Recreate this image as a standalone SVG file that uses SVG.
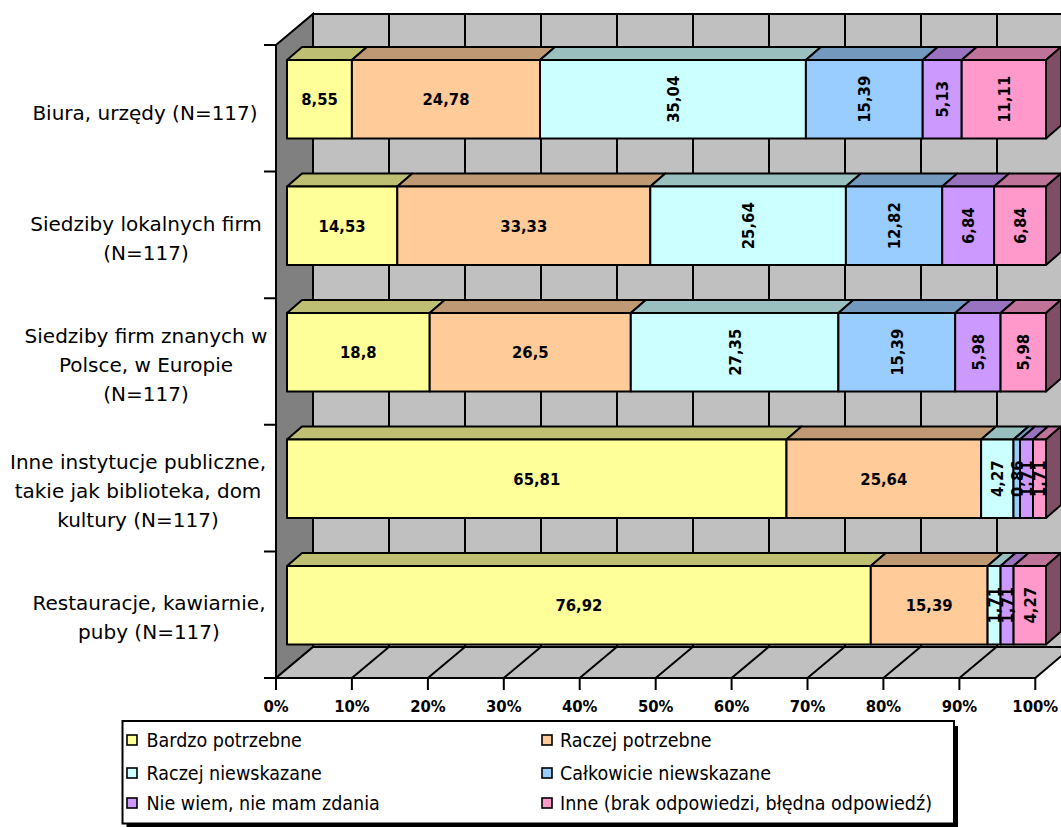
<svg xmlns="http://www.w3.org/2000/svg" width="1061" height="827" viewBox="0 0 1061 827">
  <style>
    .wall{fill:#C0C0C0;stroke:#000;stroke-width:2}
    .side{fill:#808080;stroke:#000;stroke-width:2}
    .grid{stroke:#000;stroke-width:2;fill:none}
    .bar polygon,.bar rect{stroke:#000;stroke-width:2;stroke-linejoin:round}
    .f1{fill:#FFFF99}.t1{fill:#BFBF73}
    .f2{fill:#FFCC99}.t2{fill:#BF9973}
    .f3{fill:#CCFFFF}.t3{fill:#99BFBF}
    .f4{fill:#99CCFF}.t4{fill:#7399BF}
    .f5{fill:#CC99FF}.t5{fill:#9973BF}
    .f6{fill:#FF99CC}.t6{fill:#BF7399}.r6{fill:#804D66}
    .val{font-family:"DejaVu Sans Condensed","DejaVu Sans",sans-serif;font-stretch:condensed;font-weight:bold;font-size:16.5px;text-anchor:middle;fill:#000}
    .ax{font-family:"DejaVu Sans Condensed","DejaVu Sans",sans-serif;font-stretch:condensed;font-weight:bold;font-size:16.5px;text-anchor:middle;fill:#000}
    .cat{font-family:"DejaVu Sans",Verdana,sans-serif;font-size:20px;text-anchor:middle;fill:#000}
    .leg{font-family:"DejaVu Sans Condensed","DejaVu Sans",sans-serif;font-stretch:condensed;font-size:19.5px;fill:#000}
    .key{stroke:#000;stroke-width:1.6}
  </style>

  <!-- walls and floor of the 3D plot area -->
  <g id="plot-area">
    <rect class="wall" x="313" y="14" width="759" height="633"/>
    <polygon class="side" points="276,45 313,14 313,647 276,678"/>
    <polygon class="wall" points="276,678 1035.3,678 1072,647 313,647"/>
    <!-- vertical gridlines on the back wall -->
    <path class="grid" d="M389,14V647M465,14V647M541,14V647M617,14V647M693,14V647M769,14V647M845,14V647M921,14V647M997,14V647"/>
    <!-- gridlines on the floor -->
    <path class="grid" d="M351.9,678L388.9,647M427.9,678L464.9,647M503.8,678L540.8,647M579.7,678L616.7,647M655.7,678L692.7,647M731.6,678L768.6,647M807.5,678L844.5,647M883.4,678L920.4,647M959.4,678L996.4,647"/>
    <!-- category axis ticks -->
    <path class="grid" d="M264,45H276M264,171.6H276M264,298.2H276M264,424.8H276M264,551.4H276M264,678H276"/>
    <!-- value axis ticks -->
    <path class="grid" d="M276,678V690M351.9,678V690M427.9,678V690M503.8,678V690M579.7,678V690M655.7,678V690M731.6,678V690M807.5,678V690M883.4,678V690M959.4,678V690M1035.3,678V690"/>
  </g>

  <!-- value axis labels -->
  <g id="value-axis">
    <text class="ax" x="276" y="712">0%</text>
    <text class="ax" x="351.9" y="712">10%</text>
    <text class="ax" x="427.9" y="712">20%</text>
    <text class="ax" x="503.8" y="712">30%</text>
    <text class="ax" x="579.7" y="712">40%</text>
    <text class="ax" x="655.7" y="712">50%</text>
    <text class="ax" x="731.6" y="712">60%</text>
    <text class="ax" x="807.5" y="712">70%</text>
    <text class="ax" x="883.4" y="712">80%</text>
    <text class="ax" x="959.4" y="712">90%</text>
    <text class="ax" x="1035.3" y="712">100%</text>
  </g>

  <!-- category labels -->
  <g id="category-axis">
    <text class="cat" x="145" y="119.5">Biura, urzędy (N=117)</text>
    <text class="cat" x="146" y="231">Siedziby lokalnych firm</text>
    <text class="cat" x="146" y="260">(N=117)</text>
    <text class="cat" x="146" y="343">Siedziby firm znanych w</text>
    <text class="cat" x="146" y="372">Polsce, w Europie</text>
    <text class="cat" x="146" y="401">(N=117)</text>
    <text class="cat" x="138" y="469">Inne instytucje publiczne,</text>
    <text class="cat" x="138" y="498">takie jak biblioteka, dom</text>
    <text class="cat" x="138" y="527">kultury (N=117)</text>
    <text class="cat" x="149" y="609.5">Restauracje, kawiarnie,</text>
    <text class="cat" x="149" y="638.5">puby (N=117)</text>
  </g>

  <!-- bar 1: Biura, urzędy -->
  <g id="bar-biura" class="bar">
    <polygon class="t1" points="287,60 351.9,60 366.9,47 302,47"/>
    <polygon class="t2" points="351.9,60 540,60 555,47 366.9,47"/>
    <polygon class="t3" points="540,60 805.9,60 820.9,47 555,47"/>
    <polygon class="t4" points="805.9,60 922.7,60 937.7,47 820.9,47"/>
    <polygon class="t5" points="922.7,60 961.7,60 976.7,47 937.7,47"/>
    <polygon class="t6" points="961.7,60 1046,60 1061,47 976.7,47"/>
    <rect class="f1" x="287" y="60" width="64.9" height="78.5"/>
    <rect class="f2" x="351.9" y="60" width="188.1" height="78.5"/>
    <rect class="f3" x="540" y="60" width="265.9" height="78.5"/>
    <rect class="f4" x="805.9" y="60" width="116.8" height="78.5"/>
    <rect class="f5" x="922.7" y="60" width="39" height="78.5"/>
    <rect class="f6" x="961.7" y="60" width="84.3" height="78.5"/>
    <polygon class="r6" points="1046,60 1061,47 1061,125.5 1046,138.5"/>
    <text class="val" x="319.5" y="99.25" dy=".36em">8,55</text>
    <text class="val" x="446" y="99.25" dy=".36em">24,78</text>
    <text class="val" transform="translate(673,99.25) rotate(-90)" dy=".36em">35,04</text>
    <text class="val" transform="translate(864.3,99.25) rotate(-90)" dy=".36em">15,39</text>
    <text class="val" transform="translate(942.2,99.25) rotate(-90)" dy=".36em">5,13</text>
    <text class="val" transform="translate(1003.9,99.25) rotate(-90)" dy=".36em">11,11</text>
  </g>

  <!-- bar 2: Siedziby lokalnych firm -->
  <g id="bar-lokalne" class="bar">
    <polygon class="t1" points="287,186.5 397.3,186.5 412.3,173.5 302,173.5"/>
    <polygon class="t2" points="397.3,186.5 650.3,186.5 665.3,173.5 412.3,173.5"/>
    <polygon class="t3" points="650.3,186.5 845.9,186.5 860.9,173.5 665.3,173.5"/>
    <polygon class="t4" points="845.9,186.5 942.2,186.5 957.2,173.5 860.9,173.5"/>
    <polygon class="t5" points="942.2,186.5 994.1,186.5 1009.1,173.5 957.2,173.5"/>
    <polygon class="t6" points="994.1,186.5 1046,186.5 1061,173.5 1009.1,173.5"/>
    <rect class="f1" x="287" y="186.5" width="110.3" height="78.5"/>
    <rect class="f2" x="397.3" y="186.5" width="253" height="78.5"/>
    <rect class="f3" x="650.3" y="186.5" width="195.6" height="78.5"/>
    <rect class="f4" x="845.9" y="186.5" width="96.3" height="78.5"/>
    <rect class="f5" x="942.2" y="186.5" width="51.9" height="78.5"/>
    <rect class="f6" x="994.1" y="186.5" width="51.9" height="78.5"/>
    <polygon class="r6" points="1046,186.5 1061,173.5 1061,252 1046,265"/>
    <text class="val" x="342.1" y="225.75" dy=".36em">14,53</text>
    <text class="val" x="523.8" y="225.75" dy=".36em">33,33</text>
    <text class="val" transform="translate(748.1,225.75) rotate(-90)" dy=".36em">25,64</text>
    <text class="val" transform="translate(894,225.75) rotate(-90)" dy=".36em">12,82</text>
    <text class="val" transform="translate(968.1,225.75) rotate(-90)" dy=".36em">6,84</text>
    <text class="val" transform="translate(1020,225.75) rotate(-90)" dy=".36em">6,84</text>
  </g>

  <!-- bar 3: Siedziby firm znanych w Polsce, w Europie -->
  <g id="bar-znane" class="bar">
    <polygon class="t1" points="287,313 429.7,313 444.7,300 302,300"/>
    <polygon class="t2" points="429.7,313 630.8,313 645.8,300 444.7,300"/>
    <polygon class="t3" points="630.8,313 838.4,313 853.4,300 645.8,300"/>
    <polygon class="t4" points="838.4,313 955.2,313 970.2,300 853.4,300"/>
    <polygon class="t5" points="955.2,313 1000.6,313 1015.6,300 970.2,300"/>
    <polygon class="t6" points="1000.6,313 1046,313 1061,300 1015.6,300"/>
    <rect class="f1" x="287" y="313" width="142.7" height="78.5"/>
    <rect class="f2" x="429.7" y="313" width="201.1" height="78.5"/>
    <rect class="f3" x="630.8" y="313" width="207.6" height="78.5"/>
    <rect class="f4" x="838.4" y="313" width="116.8" height="78.5"/>
    <rect class="f5" x="955.2" y="313" width="45.4" height="78.5"/>
    <rect class="f6" x="1000.6" y="313" width="45.4" height="78.5"/>
    <polygon class="r6" points="1046,313 1061,300 1061,378.5 1046,391.5"/>
    <text class="val" x="358.3" y="352.25" dy=".36em">18,8</text>
    <text class="val" x="530.3" y="352.25" dy=".36em">26,5</text>
    <text class="val" transform="translate(734.6,352.25) rotate(-90)" dy=".36em">27,35</text>
    <text class="val" transform="translate(896.8,352.25) rotate(-90)" dy=".36em">15,39</text>
    <text class="val" transform="translate(977.9,352.25) rotate(-90)" dy=".36em">5,98</text>
    <text class="val" transform="translate(1023.3,352.25) rotate(-90)" dy=".36em">5,98</text>
  </g>

  <!-- bar 4: Inne instytucje publiczne -->
  <g id="bar-instytucje" class="bar">
    <polygon class="t1" points="287,439.5 786.5,439.5 801.5,426.5 302,426.5"/>
    <polygon class="t2" points="786.5,439.5 981.1,439.5 996.1,426.5 801.5,426.5"/>
    <polygon class="t3" points="981.1,439.5 1013.5,439.5 1028.5,426.5 996.1,426.5"/>
    <polygon class="t4" points="1013.5,439.5 1020,439.5 1035,426.5 1028.5,426.5"/>
    <polygon class="t5" points="1020,439.5 1033,439.5 1048,426.5 1035,426.5"/>
    <polygon class="t6" points="1033,439.5 1046,439.5 1061,426.5 1048,426.5"/>
    <rect class="f1" x="287" y="439.5" width="499.5" height="78.5"/>
    <rect class="f2" x="786.5" y="439.5" width="194.6" height="78.5"/>
    <rect class="f3" x="981.1" y="439.5" width="32.4" height="78.5"/>
    <rect class="f4" x="1013.5" y="439.5" width="6.5" height="78.5"/>
    <rect class="f5" x="1020" y="439.5" width="13" height="78.5"/>
    <rect class="f6" x="1033" y="439.5" width="13" height="78.5"/>
    <polygon class="r6" points="1046,439.5 1061,426.5 1061,505 1046,518"/>
    <text class="val" x="536.8" y="478.75" dy=".36em">65,81</text>
    <text class="val" x="883.8" y="478.75" dy=".36em">25,64</text>
    <text class="val" transform="translate(997.3,478.75) rotate(-90)" dy=".36em">4,27</text>
    <text class="val" transform="translate(1016.8,478.75) rotate(-90)" dy=".36em">0,86</text>
    <text class="val" transform="translate(1026.5,478.75) rotate(-90)" dy=".36em">1,71</text>
    <text class="val" transform="translate(1039.5,478.75) rotate(-90)" dy=".36em">1,71</text>
  </g>

  <!-- bar 5: Restauracje, kawiarnie, puby -->
  <g id="bar-restauracje" class="bar">
    <polygon class="t1" points="287,566 870.8,566 885.8,553 302,553"/>
    <polygon class="t2" points="870.8,566 987.6,566 1002.6,553 885.8,553"/>
    <polygon class="t3" points="987.6,566 1000.6,566 1015.6,553 1002.6,553"/>
    <polygon class="t5" points="1000.6,566 1013.6,566 1028.6,553 1015.6,553"/>
    <polygon class="t6" points="1013.6,566 1046,566 1061,553 1028.6,553"/>
    <rect class="f1" x="287" y="566" width="583.8" height="78.5"/>
    <rect class="f2" x="870.8" y="566" width="116.8" height="78.5"/>
    <rect class="f3" x="987.6" y="566" width="13" height="78.5"/>
    <rect class="f5" x="1000.6" y="566" width="13" height="78.5"/>
    <rect class="f6" x="1013.6" y="566" width="32.4" height="78.5"/>
    <polygon class="r6" points="1046,566 1061,553 1061,631.5 1046,644.5"/>
    <text class="val" x="578.9" y="605.25" dy=".36em">76,92</text>
    <text class="val" x="929.2" y="605.25" dy=".36em">15,39</text>
    <text class="val" transform="translate(994.1,605.25) rotate(-90)" dy=".36em">1,71</text>
    <text class="val" transform="translate(1007.1,605.25) rotate(-90)" dy=".36em">1,71</text>
    <text class="val" transform="translate(1029.8,605.25) rotate(-90)" dy=".36em">4,27</text>
  </g>

  <!-- legend -->
  <g id="legend">
    <rect x="126.5" y="726" width="831.5" height="102.5" fill="#000"/>
    <rect x="122.5" y="721" width="831.5" height="102.5" fill="#fff" stroke="#000" stroke-width="2"/>
    <rect class="key f1" x="127" y="735" width="10" height="10"/>
    <text class="leg" x="146.5" y="747">Bardzo potrzebne</text>
    <rect class="key f3" x="127" y="768" width="10" height="10"/>
    <text class="leg" x="146.5" y="780">Raczej niewskazane</text>
    <rect class="key f5" x="127" y="798" width="10" height="10"/>
    <text class="leg" x="146.5" y="810">Nie wiem, nie mam zdania</text>
    <rect class="key f2" x="542" y="735" width="10" height="10"/>
    <text class="leg" x="560" y="747">Raczej potrzebne</text>
    <rect class="key f4" x="542" y="768" width="10" height="10"/>
    <text class="leg" x="560" y="780">Całkowicie niewskazane</text>
    <rect class="key f6" x="542" y="798" width="10" height="10"/>
    <text class="leg" x="560" y="810">Inne (brak odpowiedzi, błędna odpowiedź)</text>
  </g>
</svg>
